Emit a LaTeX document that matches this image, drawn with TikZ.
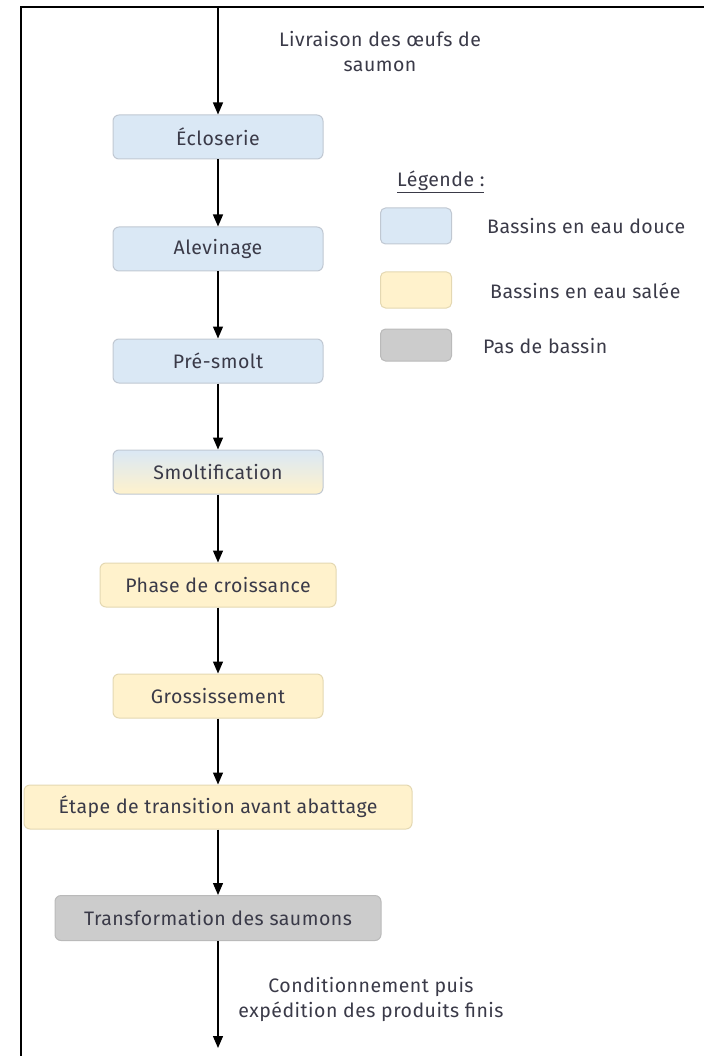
\documentclass[tikz,border=0pt]{standalone}
\usepackage{fontspec}
\setmainfont{Fira Sans}[LetterSpace=2.5]
\usetikzlibrary{arrows.meta}
\definecolor{txt}{RGB}{58,58,72}
\definecolor{bluefill}{RGB}{218,232,245}
\definecolor{blueline}{RGB}{192,200,210}
\definecolor{greenmid}{RGB}{222,238,214}
\definecolor{yelfill}{RGB}{255,242,204}
\definecolor{yelline}{RGB}{228,216,178}
\definecolor{grayfill}{RGB}{204,204,204}
\definecolor{grayline}{RGB}{186,186,186}
\begin{document}
\begin{tikzpicture}[x=1pt,y=-1pt,
  every node/.style={font=\fontsize{19.5}{25}\selectfont, text=txt},
  stage/.style={draw, rounded corners=6pt, minimum height=44pt, inner sep=0pt, line width=1pt},
  fresh/.style={stage, fill=bluefill, draw=blueline},
  salt/.style={stage, fill=yelfill, draw=yelline},
  nobasin/.style={stage, fill=grayfill, draw=grayline},
  mixed/.style={stage, draw=blueline, top color=bluefill, middle color=greenmid, bottom color=yelfill},
  flow/.style={-{Triangle[width=10pt,length=12pt]}, line width=1.3pt, black},
  frame/.style={line width=2pt, black}
]
\useasboundingbox (0,0) rectangle (704,1056);
\draw[frame] (21,1056) -- (21,7) -- (704,7);

\node[fresh, minimum width=210pt] (ecl) at (218,137) {Écloserie};
\node[fresh, minimum width=210pt] (alev) at (218,249) {Alevinage};
\node[fresh, minimum width=210pt] (pre) at (218,361) {Pré-smolt};
\node[mixed, minimum width=210pt] (smolt) at (218,472) {Smoltification};
\node[salt, minimum width=236pt] (phase) at (218,585) {Phase de croissance};
\node[salt, minimum width=210pt] (gross) at (218,696) {Grossissement};
\node[salt, minimum width=388pt] (etape) at (218,807) {Étape de transition avant abattage};
\node[nobasin, minimum width=326pt, minimum height=45pt] (transf) at (218,918) {Transformation des saumons};

\coordinate (start) at (218,8);
\coordinate (end) at (218,1048);
\draw[flow] (start) -- (ecl);
\draw[flow] (ecl) -- (alev);
\draw[flow] (alev) -- (pre);
\draw[flow] (pre) -- (smolt);
\draw[flow] (smolt) -- (phase);
\draw[flow] (phase) -- (gross);
\draw[flow] (gross) -- (etape);
\draw[flow] (etape) -- (transf);
\draw[flow] (transf) -- (end);

\node[align=center] (livr) at (380,52) {Livraison des œufs de\\saumon};
\node[align=center] (cond) at (371,999) {Conditionnement puis\\expédition des produits finis};

\node[anchor=west, inner sep=0pt] (legt) at (397,182) {\underline{Légende :}};
\node[fresh, minimum width=71pt, minimum height=36pt, rounded corners=5pt] (lb1) at (416,226) {};
\node[salt, minimum width=71pt, minimum height=36pt, rounded corners=5pt] (lb2) at (416,290) {};
\node[nobasin, minimum width=71pt, minimum height=32pt, rounded corners=5pt] (lb3) at (416,345) {};
\node[anchor=west, inner sep=0pt] (ll1) at (487,226) {Bassins en eau douce};
\node[anchor=west, inner sep=0pt] (ll2) at (490,291) {Bassins en eau salée};
\node[anchor=west, inner sep=0pt] (ll3) at (483,346) {Pas de bassin};
\end{tikzpicture}
\end{document}
